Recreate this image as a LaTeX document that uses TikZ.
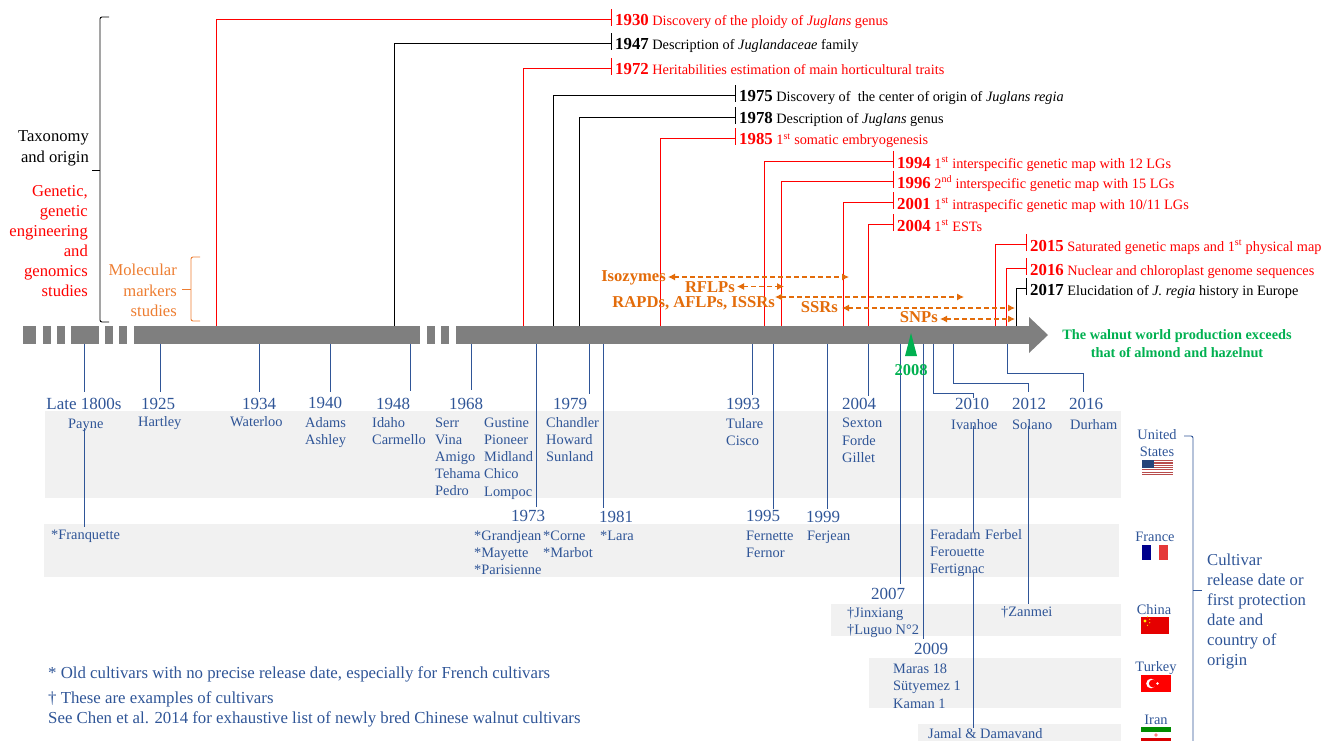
\documentclass[tikz,border=0pt]{standalone}
\usepackage{fontspec}
\setmainfont{Liberation Serif}
\definecolor{cvblue}{HTML}{2F5597}
\definecolor{axgray}{HTML}{7F7F7F}
\definecolor{panel}{HTML}{F1F1F1}
\definecolor{mkorange}{HTML}{E36C0A}
\definecolor{lborange}{HTML}{ED7D31}
\definecolor{prodgreen}{HTML}{00B050}
\usetikzlibrary{arrows.meta}
\tikzset{
  evtext/.style={anchor=west,inner sep=0pt,text height=15pt,text depth=1pt,font=\fontsize{14.3}{16}\selectfont},
  yrlab/.style={inner sep=0pt,text=cvblue,text height=11pt,text depth=1pt,font=\fontsize{17}{19}\selectfont},
  cvlab/.style={anchor=west,inner sep=0pt,text=cvblue,text height=12pt,text depth=1pt,font=\fontsize{14.4}{16}\selectfont},
  ctlab/.style={inner sep=0pt,text=cvblue,text height=12pt,text depth=1pt,font=\fontsize{14.4}{16}\selectfont},
  sidelab/.style={anchor=east,inner sep=0pt,text height=12pt,text depth=2pt,font=\fontsize{16.6}{18}\selectfont},
  mklab/.style={anchor=east,inner sep=0pt,text=mkorange,text height=12pt,text depth=2pt,font=\fontsize{16.6}{18}\selectfont\bfseries},
  mkarrow/.style={draw=mkorange,line width=1.1pt,dash pattern=on 5pt off 3pt,{Latex[length=7pt,width=7pt]}-{Latex[length=7pt,width=7pt]}},
  yrline/.style={draw=cvblue,line width=.9pt},
  notelab/.style={anchor=west,inner sep=0pt,text=cvblue,font=\fontsize{16.8}{19}\selectfont}
}
\begin{document}
\begin{tikzpicture}[x=1pt,y=-1pt]
  \useasboundingbox (0,0) rectangle (1338,741);
  \clip (0,0) rectangle (1338,741);
  % panels
  \foreach \xa/\ya/\xb/\yb in {45/411/1121/498,44/524/1119/577,831/604/1121/636,869/658/1121/708,918/724/1121/741}{
    \fill[panel] (\xa,\ya) rectangle (\xb,\yb);
  }
  % axis
  \foreach \xa/\xb in {23/36,43/51,57/65,71/99,105/113,119/127,134/420,427/435,441/449,456/1030}{
    \fill[axgray] (\xa,326) rectangle (\xb,344);
  }
  \fill[axgray] (1029,317) -- (1048,335) -- (1029,353) -- cycle;
  % events above the axis
  \foreach \n/\lx/\y/\tx/\col/\txt in {
    1930/216/19/611/red/{Discovery of the ploidy of \textit{Juglans} genus},
    1947/394/43/611/black/{Description of \textit{Juglandaceae} family},
    1972/523/68/611/red/{Heritabilities estimation of main horticultural traits},
    1975/553/95/735/black/{Discovery of\ \ the center of origin of \textit{Juglans regia}},
    1978/579/117/735/black/{Description of \textit{Juglans} genus},
    1985/660/138/735/red/{1\textsuperscript{st} somatic embryogenesis},
    1994/764/161/893/red/{1\textsuperscript{st} interspecific genetic map with 12 LGs},
    1996/781/181/893/red/{2\textsuperscript{nd} interspecific genetic map with 15 LGs},
    2001/843/202/893/red/{1\textsuperscript{st} intraspecific genetic map with 10/11 LGs},
    2004/868/224/893/red/{1\textsuperscript{st} ESTs},
    2015/995/244/1026/red/{Saturated genetic maps and 1\textsuperscript{st} physical map},
    2016/1006/268/1026/red/{Nuclear and chloroplast genome sequences},
    2017/1016/288/1026/black/{Elucidation of \textit{J. regia} history in Europe}}{
    \coordinate (t\n) at (\tx,\y);
    \coordinate (l\n) at (\lx,326);
    \node[evtext,text=\col] (e\n) at (\tx+4,\y) {{\fontsize{16.8}{15}\selectfont\bfseries\n} \txt};
    \draw[\col,line width=.9pt] (l\n) |- (t\n);
    \draw[\col,line width=.9pt] ([yshift=-7pt]t\n) -- ([yshift=10pt]t\n);
  }
  % years below the axis
  \foreach \n/\t/\lx/\ly/\yx/\yy in {
    1800/Late 1800s/84/392/84/404,1925/1925/160/392/158/404,1934/1934/259/392/259/404,
    1940/1940/330/392/325/403,1948/1948/410/391/393/404,1968/1968/471/390/466/404,
    1973/1973/536/507/528/516,1979/1979/589/394/570/404,1981/1981/603/508/616/517,
    1993/1993/752/395/743/404,1995/1995/773/509/763/516,1999/1999/827/509/823/517,
    2004/2004/868/396/859/404,2007/2007/900/584/888/594,2009/2009/923/639/931/649}{
    \coordinate (a\n) at (\lx,344);
    \coordinate (b\n) at (\lx,\ly);
    \node[yrlab] (y\n) at (\yx,\yy) {\t};
    \draw[yrline] (a\n) -- (b\n);
  }
  \foreach \n/\ax/\my/\lx/\ly/\yx in {2010/933/393/973/398/972,2012/953/383/1028/392/1029,2016/1007/373/1083/392/1086}{
    \coordinate (a\n) at (\ax,344);
    \coordinate (b\n) at (\lx,\ly);
    \node[yrlab] (y\n) at (\yx,404) {\n};
    \draw[yrline] (a\n) |- (\lx,\my) -- (b\n);
  }
  % cultivars
  \foreach \n/\x/\y/\t in {
    Hartley/138/421/Hartley,Waterloo/230/421/Waterloo,Adams/305/422/Adams,Ashley/305/439/Ashley,
    Idaho/372/422/Idaho,Carmello/372/439/Carmello,
    Serr/435/422/Serr,Vina/435/439/Vina,Amigo/435/456/Amigo,Tehama/435/473/Tehama,Pedro/435/490/Pedro,
    Gustine/484/422/Gustine,Pioneer/484/439/Pioneer,Midland/484/456/Midland,Chico/484/473/Chico,Lompoc/484/491/Lompoc,
    Chandler/546/422/Chandler,Howard/546/439/Howard,Sunland/546/456/Sunland,
    Tulare/726/423/Tulare,Cisco/726/440/Cisco,Sexton/842/422/Sexton,Forde/842/440/Forde,Gillet/842/457/Gillet,
    Ivanhoe/951/424/Ivanhoe,Solano/1012/424/Solano,Durham/1070/424/Durham,
    Payne/68/423/Payne,Franquette/51/534/*Franquette,
    Grandjean/474/535/*Grandjean,Mayette/474/552/*Mayette,Parisienne/474/569/*Parisienne,
    Corne/543/535/*Corne,Marbot/543/552/*Marbot,Lara/600/535/*Lara,
    Fernette/746/535/Fernette,Fernor/746/552/Fernor,Ferjean/807/535/Ferjean,
    Feradam/930/534/Feradam,Ferbel/985/534/Ferbel,Ferouette/930/551/Ferouette,Fertignac/930/568/Fertignac,
    Jinxiang/847/612/†Jinxiang,Luguo/847/629/†Luguo N°2,Zanmei/1001/611/†Zanmei,
    Maras/893/668/Maras 18,Sutyemez/893/685/Sütyemez 1,Kaman/893/703/Kaman 1,
    Jamal/928/733/Jamal \& Damavand}{
    \node[cvlab] (c\n) at (\x,\y) {\t};
  }
  \draw[yrline] ([yshift=1.5pt]cPayne.south -| a1800) -- ([yshift=.5pt]cFranquette.north -| a1800);
  \draw[yrline] ([yshift=4.5pt]cIvanhoe.south -| b2010) -- ([yshift=-4.5pt]cFeradam.north -| b2010);
  \draw[yrline] ([yshift=2.5pt]cFertignac.south -| b2010) -- ([yshift=-1.5pt]cJamal.north -| b2010);
  \draw[yrline] ([yshift=4.5pt]cSolano.south -| b2012) -- (cZanmei.north -| b2012);
  % left brackets and their labels
  \foreach \n/\y/\t in {tax/137/Taxonomy,ori/157/and origin}{
    \node[sidelab] (s\n) at (89,\y) {\t};
  }
  \foreach \n/\y/\t in {gen/191/{Genetic,},gnt/211/genetic,eng/231/engineering,and/251/and,gno/271/genomics,stu/291/studies}{
    \node[sidelab,text=red] (s\n) at (88,\y) {\t};
  }
  \foreach \n/\y/\t in {mol/270/Molecular,mar/291/markers,mst/311/studies}{
    \node[sidelab,text=lborange] (s\n) at (177,\y) {\t};
  }
  \draw[black,line width=.9pt,rounded corners=2pt] (109,17) -- (100,17) -- (100,322) -- (109,322);
  \draw[black,line width=.9pt] (92,170) -- (100,170);
  \draw[lborange,line width=.9pt,rounded corners=2pt] (200,257) -- (191,257) -- (191,321) -- (200,321);
  \draw[lborange,line width=.9pt] (182,289) -- (191,289);
  % markers
  \foreach \n/\x/\y/\t/\xa/\xb/\ya in {
    iso/666/276/Isozymes/668/849/277,
    rfl/735/287/RFLPs/737/784/286.5,
    rap/775/302/{RAPDs, AFLPs, ISSRs}/775/964/297,
    ssr/838/307/SSRs/842/1015/308,
    snp/938/317/SNPs/940/1015/319}{
    \node[mklab] (m\n) at (\x,\y) {\t};
    \coordinate (p\n) at (\xa,\ya);
    \coordinate (q\n) at (\xb,\ya);
    \draw[mkarrow] (p\n) -- (q\n);
  }
  % production
  \fill[prodgreen] (911,333) -- (917,356) -- (905,356) -- cycle;
  \node[inner sep=0pt,text=prodgreen,font=\fontsize{16.5}{18}\selectfont\bfseries] (y2008) at (911,370) {2008};
  \node[inner sep=0pt,text=prodgreen,font=\fontsize{14.3}{16}\selectfont\bfseries] (prodA) at (1177,336) {The walnut world production exceeds};
  \node[inner sep=0pt,text=prodgreen,font=\fontsize{14.3}{16}\selectfont\bfseries] (prodB) at (1177,353) {that of almond and hazelnut};
  % countries
  \foreach \n/\x/\y/\t in {usa/1157/434/United,usb/1157/451/States,fra/1155/536/France,chn/1154/609/China,tur/1156/666/Turkey,irn/1156/719/Iran}{
    \node[ctlab] (k\n) at (\x,\y) {\t};
  }
  % flags
  \fill[white] (1142,460) rectangle (1173,475);
  \foreach \i in {0,...,6}{
    \fill[red!60!black!70] (1142,460+2.3*\i) rectangle (1173,461.2+2.3*\i);
  }
  \fill[cvblue!80!black] (1142,460) rectangle (1154,468);
  \fill[blue!55!black] (1142,545) rectangle (1151,560);
  \fill[red!75!white!90!black] (1159,545) rectangle (1168,560);
  \fill[red!90!black] (1141,617) rectangle (1169,634);
  \fill[yellow] (1145,621) circle (1.6pt);
  \foreach \a in {-60,-20,20,60}{
    \fill[yellow] (1145,621) ++(\a:5pt) circle (.6pt);
  }
  \fill[red] (1141,675) rectangle (1171,692);
  \fill[white] (1151,683.5) circle (4.8pt);
  \fill[red] (1152.8,683.5) circle (3.9pt);
  \fill[white] (1157.5,683.5) circle (1.4pt);
  \fill[green!55!black] (1141,727) rectangle (1171,732);
  \fill[red!85!black] (1141,738) rectangle (1171,741);
  \fill[red!50!white] (1156,735) circle (1.8pt);
  % right bracket
  \draw[cvblue,line width=.9pt,rounded corners=2pt] (1184,436) -- (1193,436) -- (1193,745);
  \draw[cvblue,line width=.9pt] (1193,590) -- (1202,590);
  \foreach \n/\y/\t in {a/560/Cultivar,b/580/release date or,c/600/first protection,d/620/date and,e/640/country of,f/660/origin}{
    \node[anchor=west,inner sep=0pt,text=cvblue,text height=12pt,text depth=2pt,font=\fontsize{16.7}{18}\selectfont] (r\n) at (1207,\y) {\t};
  }
  % notes
  \node[notelab] (noteA) at (48,674) {* Old cultivars with no precise release date, especially for French cultivars};
  \node[notelab] (noteB) at (48,699) {† These are examples of cultivars};
  \node[notelab] (noteC) at (48,719) {See Chen et al. 2014 for exhaustive list of newly bred Chinese walnut cultivars};
\end{tikzpicture}
\end{document}
